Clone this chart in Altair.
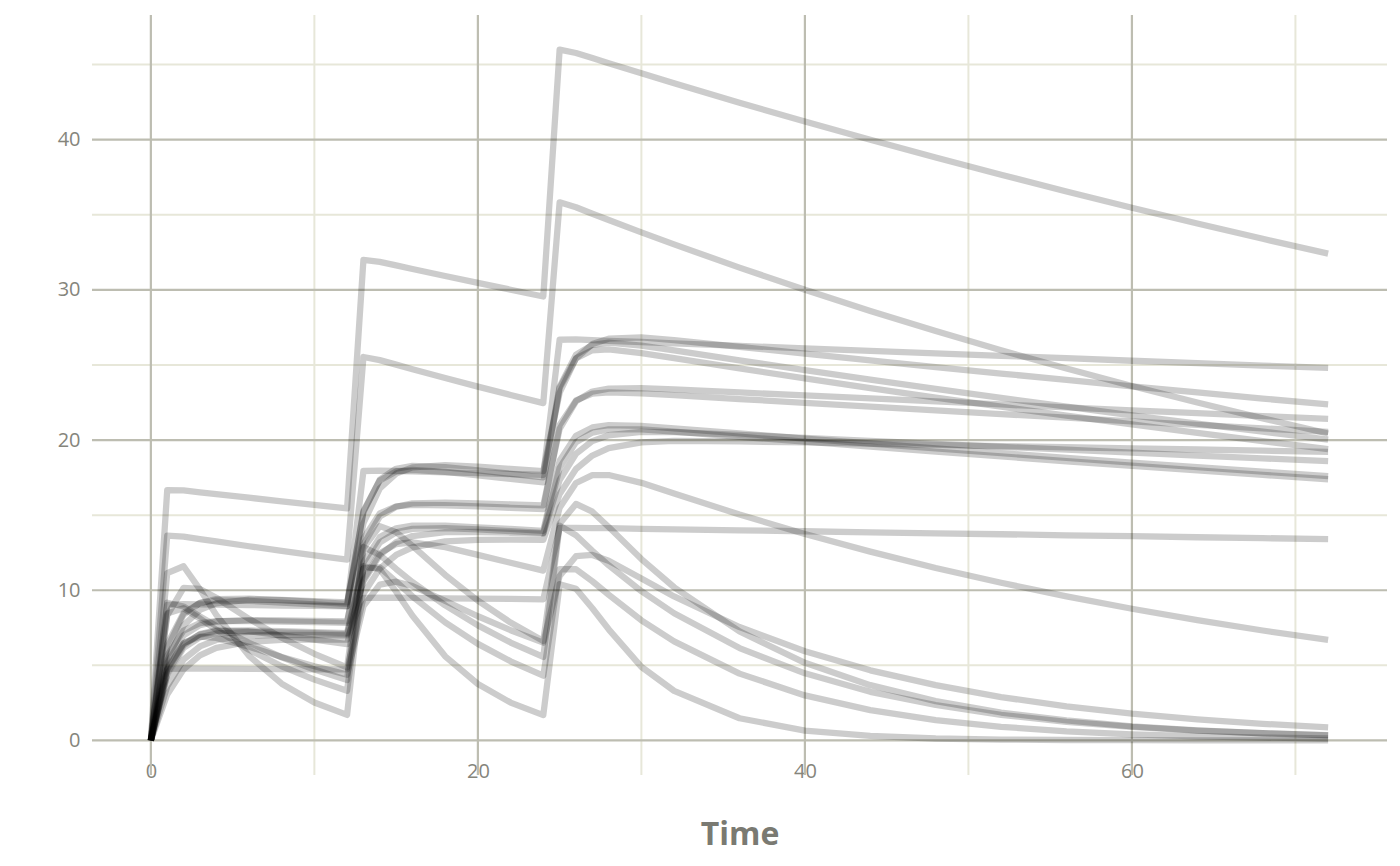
import altair as alt
import pandas as pd

# sampling times (h): three doses at 0, 12, 24
TIME = [0, 1, 2, 3, 4, 6, 8, 10, 12,
        13, 14, 15, 16, 18, 20, 22, 24,
        25, 26, 27, 28, 30, 32, 36, 40, 44, 48, 52, 56, 60, 64, 68, 72]

# concentration profiles, one list per subject
s01 = [0, 16.66, 16.65, 16.52, 16.40, 16.16, 15.92, 15.68, 15.45, 31.99, 31.86, 31.63, 31.39, 30.92, 30.46, 30.01, 29.56,
       46.00, 45.77, 45.43, 45.09, 44.42, 43.75, 42.46, 41.21, 39.99, 38.81, 37.66, 36.55, 35.47, 34.42, 33.40, 32.41]
s02 = [0, 13.64, 13.57, 13.41, 13.25, 12.93, 12.63, 12.33, 12.04, 25.53, 25.32, 25.02, 24.72, 24.13, 23.56, 23.00, 22.46,
       35.83, 35.50, 35.07, 34.65, 33.83, 33.03, 31.48, 30.01, 28.60, 27.26, 25.98, 24.76, 23.60, 22.50, 21.44, 20.44]
s03 = [0, 9.02, 9.07, 9.06, 9.04, 9.01, 8.98, 8.96, 8.93, 17.94, 17.97, 17.94, 17.91, 17.85, 17.80, 17.74, 17.68,
       26.68, 26.70, 26.66, 26.61, 26.53, 26.44, 26.27, 26.11, 25.94, 25.77, 25.61, 25.45, 25.28, 25.12, 24.96, 24.80]
s04 = [0, 4.76, 4.79, 4.78, 4.78, 4.77, 4.75, 4.74, 4.73, 9.49, 9.51, 9.50, 9.49, 9.46, 9.44, 9.42, 9.39,
       14.15, 14.16, 14.14, 14.13, 14.09, 14.06, 13.99, 13.93, 13.86, 13.79, 13.73, 13.66, 13.60, 13.53, 13.47, 13.40]
s05 = [0, 5.30, 7.66, 8.69, 9.13, 9.37, 9.35, 9.28, 9.20, 14.46, 16.78, 17.77, 18.18, 18.33, 18.23, 18.08, 17.93,
       23.15, 25.43, 26.39, 26.75, 26.83, 26.66, 26.21, 25.75, 25.30, 24.86, 24.43, 24.00, 23.58, 23.17, 22.76, 22.37]
s06 = [0, 6.16, 8.38, 9.16, 9.41, 9.44, 9.34, 9.22, 9.10, 15.20, 17.37, 18.09, 18.28, 18.19, 17.98, 17.75, 17.52,
       23.56, 25.68, 26.34, 26.48, 26.29, 25.97, 25.31, 24.66, 24.03, 23.41, 22.81, 22.22, 21.65, 21.10, 20.56, 20.03]
s07 = [0, 6.41, 8.49, 9.15, 9.32, 9.30, 9.18, 9.06, 8.94, 15.28, 17.31, 17.91, 18.02, 17.88, 17.65, 17.41, 17.18,
       23.47, 25.44, 25.98, 26.04, 25.79, 25.45, 24.77, 24.11, 23.46, 22.83, 22.22, 21.62, 21.04, 20.48, 19.93, 19.39]
s08 = [0, 5.13, 7.00, 7.68, 7.92, 8.01, 8.00, 7.96, 7.93, 13.04, 14.90, 15.56, 15.78, 15.84, 15.79, 15.72, 15.65,
       20.74, 22.58, 23.23, 23.43, 23.46, 23.37, 23.17, 22.97, 22.77, 22.57, 22.37, 22.17, 21.98, 21.79, 21.60, 21.41]
s09 = [0, 5.64, 7.32, 7.81, 7.94, 7.96, 7.92, 7.88, 7.83, 13.45, 15.11, 15.58, 15.69, 15.66, 15.58, 15.49, 15.41,
       21.00, 22.64, 23.09, 23.18, 23.11, 22.99, 22.73, 22.48, 22.23, 21.98, 21.73, 21.49, 21.25, 21.01, 20.78, 20.55]
s10 = [0, 4.72, 6.44, 7.05, 7.26, 7.32, 7.27, 7.21, 7.15, 11.85, 13.54, 14.12, 14.30, 14.30, 14.19, 14.08, 13.96,
       18.63, 20.29, 20.84, 20.99, 20.94, 20.78, 20.44, 20.10, 19.77, 19.45, 19.13, 18.81, 18.50, 18.20, 17.90, 17.60]
s11 = [0, 4.39, 6.16, 6.86, 7.12, 7.23, 7.20, 7.14, 7.08, 11.44, 13.18, 13.85, 14.09, 14.14, 14.05, 13.94, 13.82,
       18.15, 19.86, 20.50, 20.71, 20.71, 20.56, 20.22, 19.89, 19.56, 19.23, 18.91, 18.59, 18.29, 17.98, 17.68, 17.39]
s12 = [0, 3.06, 4.74, 5.66, 6.16, 6.57, 6.69, 6.72, 6.71, 9.77, 11.44, 12.35, 12.85, 13.25, 13.36, 13.37, 13.35,
       16.41, 18.07, 18.97, 19.46, 19.85, 19.94, 19.91, 19.84, 19.76, 19.68, 19.60, 19.52, 19.44, 19.37, 19.29, 19.21]
s13 = [0, 3.61, 5.39, 6.26, 6.69, 6.98, 7.03, 7.02, 6.99, 10.58, 12.34, 13.20, 13.61, 13.87, 13.88, 13.83, 13.77,
       17.34, 19.09, 19.93, 20.32, 20.55, 20.53, 20.35, 20.15, 19.95, 19.75, 19.55, 19.36, 19.16, 18.97, 18.78, 18.60]
s14 = [0, 4.44, 6.33, 7.09, 7.33, 7.27, 7.00, 6.71, 6.41, 10.71, 12.46, 13.08, 13.19, 12.87, 12.36, 11.83, 11.31,
       15.49, 17.14, 17.66, 17.67, 17.15, 16.45, 15.04, 13.75, 12.57, 11.48, 10.50, 9.59, 8.77, 8.01, 7.32, 6.69]
s15 = [0, 11.14, 11.60, 10.06, 8.36, 5.63, 3.78, 2.53, 1.70, 11.60, 11.40, 9.90, 8.30, 5.60, 3.76, 2.52, 1.69,
       10.40, 10.10, 8.80, 7.40, 4.90, 3.30, 1.48, 0.66, 0.30, 0.13, 0.06, 0.03, 0.02, 0.01, 0.00, 0.00]
s16 = [0, 8.33, 10.16, 10.09, 9.50, 8.10, 6.84, 5.77, 4.87, 12.81, 14.27, 13.87, 12.96, 11.02, 9.31, 7.85, 6.62,
       14.42, 15.75, 15.23, 14.21, 12.08, 10.20, 7.26, 5.17, 3.68, 2.62, 1.86, 1.33, 0.94, 0.67, 0.48, 0.34]
s17 = [0, 9.17, 8.92, 8.26, 7.62, 6.50, 5.54, 4.72, 4.02, 12.88, 12.35, 11.42, 10.54, 8.99, 7.66, 6.52, 5.56,
       14.30, 13.66, 12.63, 11.66, 9.94, 8.47, 6.15, 4.47, 3.24, 2.36, 1.71, 1.24, 0.90, 0.66, 0.48, 0.35]
s18 = [0, 4.82, 6.49, 6.91, 6.83, 6.24, 5.56, 4.94, 4.38, 8.94, 10.38, 10.57, 10.28, 9.30, 8.27, 7.34, 6.51,
       10.95, 12.27, 12.35, 11.96, 10.78, 9.59, 7.55, 5.94, 4.67, 3.68, 2.89, 2.27, 1.79, 1.41, 1.11, 0.87]
s19 = [0, 8.46, 8.80, 8.12, 7.37, 6.04, 4.94, 4.05, 3.31, 11.46, 11.52, 10.58, 9.59, 7.86, 6.43, 5.27, 4.31,
       11.40, 11.40, 10.60, 9.70, 8.00, 6.60, 4.45, 3.00, 2.02, 1.36, 0.91, 0.61, 0.41, 0.28, 0.19, 0.13]

PROFILES = [s01, s02, s03, s04, s05, s06, s07, s08, s09, s10,
            s11, s12, s13, s14, s15, s16, s17, s18, s19]

X_MAJOR = [0, 20, 40, 60]
X_MINOR = [10, 30, 50, 70]
Y_MAJOR = [0, 10, 20, 30, 40]
Y_MINOR = [5, 15, 25, 35, 45]

rows = []
for i, prof in enumerate(PROFILES, start=1):
    for t, c in zip(TIME, prof):
        rows.append({"id": i, "time": t, "conc": c})
df = pd.DataFrame(rows)

FONT = "Open Sans"
LABEL_COLOR = "#85857c"
MAJOR = "#bdbdb1"
MINOR = "#e7e7d9"

x_scale = alt.Scale(domain=[-3.6, 75.6], nice=False, zero=False)
y_scale = alt.Scale(domain=[-2.3, 48.3], nice=False, zero=False)

x_axis = alt.Axis(values=X_MAJOR, grid=False, domain=False, ticks=False,
                  labelFont=FONT, labelFontSize=20, labelColor=LABEL_COLOR, labelPadding=-14,
                  title="Time", titleFont=FONT, titleFontSize=32, titleFontWeight="bold",
                  titleColor="#7a7a72", titlePadding=38)
y_axis = alt.Axis(values=Y_MAJOR, grid=False, domain=False, ticks=False,
                  labelFont=FONT, labelFontSize=20, labelColor=LABEL_COLOR, labelPadding=12,
                  title="")

def xenc():
    return alt.X("time:Q", scale=x_scale, axis=x_axis)

def yenc():
    return alt.Y("conc:Q", scale=y_scale, axis=y_axis)

minor_v = alt.Chart(pd.DataFrame({"time": X_MINOR})).mark_rule(
    color=MINOR, strokeWidth=2).encode(x=xenc())
minor_h = alt.Chart(pd.DataFrame({"conc": Y_MINOR})).mark_rule(
    color=MINOR, strokeWidth=2).encode(y=yenc())
major_v = alt.Chart(pd.DataFrame({"time": X_MAJOR})).mark_rule(
    color=MAJOR, strokeWidth=2.2).encode(x=xenc())
major_h = alt.Chart(pd.DataFrame({"conc": Y_MAJOR})).mark_rule(
    color=MAJOR, strokeWidth=2.2).encode(y=yenc())

lines = alt.Chart(df).mark_line(
    color="black", opacity=0.2, strokeWidth=6.3, strokeJoin="round", strokeCap="butt"
).encode(x=xenc(), y=yenc(), detail="id:N", order="time:Q")

chart = alt.layer(minor_v, minor_h, major_v, major_h, lines).properties(
    width=1295, height=760,
    autosize=alt.AutoSizeParams(type="none"),
    padding={"left": 84, "top": 7, "right": 5, "bottom": 80},
    background="white",
).configure_view(strokeWidth=0)

chart.save("out.html", embed_options={"renderer": "svg", "actions": False})
